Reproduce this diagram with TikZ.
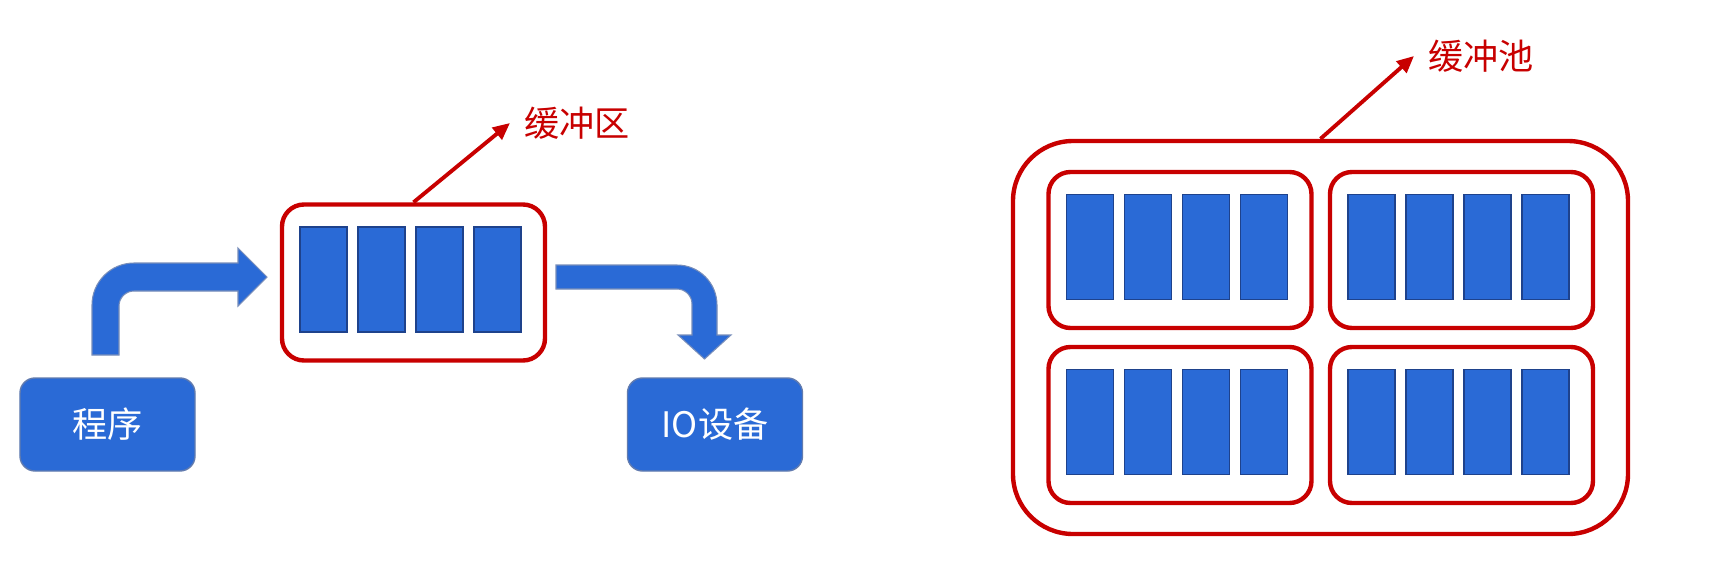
\documentclass[tikz,border=0pt]{standalone}
\usepackage{fontspec}
\newfontfamily\cjk{Noto Sans CJK SC}
\usepackage{xcolor}
\usetikzlibrary{
    arrows.meta,
    calc,
    positioning
}
\definecolor{bufblue}{RGB}{42,106,214}
\definecolor{bufedge}{RGB}{30,66,140}
\definecolor{bufred}{RGB}{200,0,0}
\tikzset{
    bufcell/.style={fill=bufblue, draw=bufedge, line width=0.3pt, minimum width=0.47cm, minimum height=1.05cm, inner sep=0},
    bufbox/.style={draw=bufred, line width=1.25pt, rounded corners=0.22cm, minimum width=2.63cm, minimum height=1.56cm, inner sep=0},
    devbox/.style={fill=bufblue, draw=bufedge!70, line width=0.4pt, rounded corners=0.15cm, minimum width=1.75cm, minimum height=0.93cm, text=white, font=\cjk\fontsize{10}{12}\selectfont},
    bufname/.style={text=bufred, font=\cjk\fontsize{10}{12}\selectfont, inner sep=0.14cm},
    bentarrow/.style={fill=bufblue, draw=bufedge!60, line width=0.3pt},
    namearrow/.style={draw=bufred, line width=1.1pt, -{Triangle[length=0.17cm,width=0.15cm]}}
}

\begin{document}
\begin{tikzpicture}
    \useasboundingbox[fill=white] (0,0) rectangle (17.19,-5.80);
    % one buffer between program and device
    \begin{scope}[shift={(4.135,-2.825)}]
        \node[bufbox] (buf) at (0,0) {};
        \foreach \x [count=\i] in {-0.90,-0.32,0.26,0.84}
            \node[bufcell] (buf\i) at (\x,0.03) {};
    \end{scope}
    \node[bufname, anchor=west] (bufname) at (5.10,-1.23) {缓冲区};
    \draw[namearrow] (buf.north) -- (bufname.west);

    \node[devbox] (prog) at (1.075,-4.245) {程序};
    \node[devbox] (io) at (7.15,-4.245) {IO设备};

    \path[bentarrow] (0.92,-3.55) -- (0.92,-3.05) arc[start angle=180, end angle=90, radius=0.42]
        -- (2.38,-2.63) -- (2.38,-2.48) -- (2.67,-2.77) -- (2.38,-3.06) -- (2.38,-2.91)
        -- (1.34,-2.91) arc[start angle=90, end angle=180, radius=0.15] -- (1.19,-3.55) -- cycle;
    \path[bentarrow] (5.56,-2.65) -- (6.77,-2.65) arc[start angle=90, end angle=0, radius=0.40]
        -- (7.17,-3.35) -- (7.31,-3.35) -- (7.045,-3.59) -- (6.78,-3.35) -- (6.92,-3.35)
        -- (6.92,-3.04) arc[start angle=0, end angle=90, radius=0.15] -- (5.56,-2.89) -- cycle;

    % buffer pool
    \node[bufbox, rounded corners=0.6cm, minimum width=6.15cm, minimum height=3.93cm] (pool) at (13.205,-3.375) {};
    \begin{scope}[shift={(11.80,-2.50)}]
        \node[bufbox] (poolA) at (0,0) {};
        \foreach \x [count=\i] in {-0.90,-0.32,0.26,0.84}
            \node[bufcell] (poolA\i) at (\x,0.03) {};
    \end{scope}
    \begin{scope}[shift={(14.615,-2.50)}]
        \node[bufbox] (poolB) at (0,0) {};
        \foreach \x [count=\i] in {-0.90,-0.32,0.26,0.84}
            \node[bufcell] (poolB\i) at (\x,0.03) {};
    \end{scope}
    \begin{scope}[shift={(11.80,-4.25)}]
        \node[bufbox] (poolC) at (0,0) {};
        \foreach \x [count=\i] in {-0.90,-0.32,0.26,0.84}
            \node[bufcell] (poolC\i) at (\x,0.03) {};
    \end{scope}
    \begin{scope}[shift={(14.615,-4.25)}]
        \node[bufbox] (poolD) at (0,0) {};
        \foreach \x [count=\i] in {-0.90,-0.32,0.26,0.84}
            \node[bufcell] (poolD\i) at (\x,0.03) {};
    \end{scope}
    \node[bufname, anchor=west] (poolname) at (14.14,-0.56) {缓冲池};
    \draw[namearrow] (pool.north) -- (poolname.west);
\end{tikzpicture}
\end{document}
